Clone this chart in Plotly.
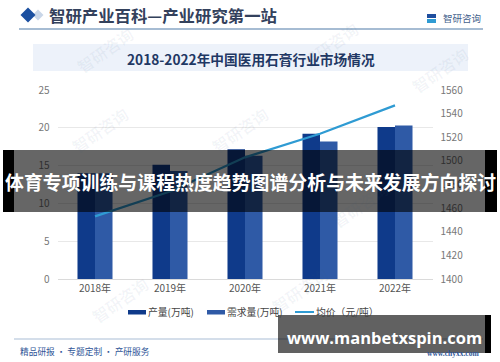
import plotly.graph_objects as go

W, H = 500, 362
years = ["2018年", "2019年", "2020年", "2021年", "2022年"]
output = [14.0, 15.1, 17.15, 19.2, 20.1]
demand = [14.0, 14.3, 16.3, 18.2, 20.3]
price = [1453, 1474, 1503, 1523, 1547]
left_ticks = [0, 5, 10, 15, 20, 25]
right_ticks = [1400, 1420, 1440, 1460, 1480, 1500, 1520, 1540, 1560]

NAVY, BLUE, SKY = "#0F3A8A", "#2F5AA6", "#2F9BD3"
CJK = "Noto Sans CJK SC"

def px(x): return x / W
def py(y): return 1 - y / H

fig = go.Figure()
fig.add_bar(x=years, y=output, name="产量(万吨)", marker_color=NAVY, marker_line_width=0)
fig.add_bar(x=years, y=demand, name="需求量(万吨)", marker_color=BLUE, marker_line_width=0)
fig.add_scatter(x=years, y=price, name="均价(元/吨)", yaxis="y2", mode="lines",
                line=dict(color=SKY, width=2.2))

shapes, ann = [], []

def rect(x0, y0, x1, y1, color, layer="below"):
    shapes.append(dict(type="rect", xref="paper", yref="paper", x0=px(x0), x1=px(x1),
                       y0=py(y0), y1=py(y1), fillcolor=color, line_width=0, layer=layer))

def line(x0, y0, x1, y1, color, w=1, layer="below"):
    shapes.append(dict(type="line", xref="paper", yref="paper", x0=px(x0), x1=px(x1),
                       y0=py(y0), y1=py(y1), line=dict(color=color, width=w), layer=layer))

def text(x, y, s, size, color, anchor="center", bold=False, family=CJK, angle=0):
    ann.append(dict(x=px(x), y=py(y), xref="paper", yref="paper", text=f"<b>{s}</b>" if bold else s,
                    showarrow=False, xanchor=anchor, yanchor="middle", textangle=angle,
                    font=dict(size=size, color=color, family=family)))

def diamond(cx, cy, r, color):
    X0, X1, X2 = px(cx - r), px(cx), px(cx + r)
    Y0, Y1, Y2 = py(cy - r), py(cy), py(cy + r)
    shapes.append(dict(type="path", xref="paper", yref="paper",
                       path=f"M{X0},{Y1} L{X1},{Y0} L{X2},{Y1} L{X1},{Y2} Z",
                       fillcolor=color, line_width=0, layer="below"))

# watermarks
for wx, wy in [(105, 50), (330, 45), (100, 130), (120, 300), (240, 130), (360, 205), (300, 290), (440, 70)]:
    text(wx, wy, "智研咨询", 16, "rgba(60,90,130,0.06)", angle=-35, bold=True)

# header
diamond(38, 15, 5.5, "#C9D6E8")
diamond(28, 15, 7.5, "#1B4FA0")
text(47, 15, "智研产业百科—产业研究第一站", 16.4, "#33415C", "left", True)
line(19, 29, 483, 29, "#4F7BA8", 1.2)
rect(427, 14, 436, 18, "#1F4E9E")
rect(427, 19, 436, 23, "#2F9BD3")
text(441, 18, "智研咨询", 9.5, "#44618C", "left")

# title band
rect(33, 44, 468, 71, "#EDF2FA")
text(251, 59.5, "2018-2022年中国医用石膏行业市场情况", 13.7, "#1F3864", "center", True)

# legend
rect(128, 310, 146, 314.5, NAVY)
text(146, 311.5, "产量(万吨)", 9.8, "#444444", "left")
rect(207, 310, 225, 314.5, BLUE)
text(225, 311.5, "需求量(万吨)", 9.8, "#444444", "left")
line(295, 312, 314, 312, SKY, 2)
text(314, 311.5, "均价（元/吨）", 9.8, "#444444", "left")

# footer
line(14, 339, 483, 339, "#A9BDD6", 1.2)
text(18, 351, "精品研报 · 专题定制 · 产研服务", 8.7, "#2F5597", "left")
text(481, 353, "www.chyxx.com", 7.5, "#2F5597", "right", True, "Liberation Serif")

# overlays
rect(3, 150, 497, 212, "rgba(0,0,0,0.6)", "above")
rect(3, 150, 14, 212, "#000000", "above")
rect(485, 150, 497, 212, "#000000", "above")
text(250, 181, "体育专项训练与课程热度趋势图谱分析与未来发展方向探讨", 18.9, "#FFFFFF", "center", True)
rect(278, 315, 485, 353, "rgba(0,0,0,0.62)", "above")
rect(485, 315, 491, 353, "#000000", "above")
text(384, 337, "www.manbetxspin.com", 16.5, "#FFFFFF", "center", True, "Open Sans")

fig.update_layout(
    width=W, height=H, autosize=False, margin=dict(l=0, r=0, t=0, b=0),
    paper_bgcolor="white", plot_bgcolor="rgba(0,0,0,0)", showlegend=False,
    barmode="group", bargap=0.533, bargroupgap=0,
    font=dict(family=CJK, color="#666666", size=10),
    shapes=shapes, annotations=ann,
    xaxis=dict(domain=[px(57.5), px(432.5)], anchor="y", showgrid=False, zeroline=False, automargin=False,
               showline=True, linecolor="#DADADA", ticks="", tickfont=dict(size=10, color="#555555")),
    yaxis=dict(domain=[py(279), py(90)], range=[0, 25], tickvals=left_ticks, gridcolor="#E8E8E8", automargin=False,
               zeroline=False, tickfont=dict(size=10, color="#777777"), ticks="", ticklabelstandoff=7),
    yaxis2=dict(domain=[py(279), py(90)], range=[1400, 1560], overlaying="y", side="right", automargin=False,
                tickvals=right_ticks, showgrid=False, zeroline=False, anchor="x",
                tickfont=dict(size=10, color="#777777"), ticks="", ticklabelstandoff=7),
)
fig.write_html("out.html", config={"displayModeBar": False},
               post_script="document.body.style.margin='0';document.documentElement.style.overflow='hidden';")
